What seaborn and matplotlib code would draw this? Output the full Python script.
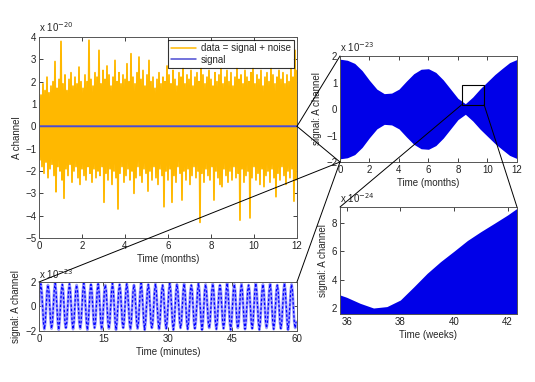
import numpy as np
import matplotlib
matplotlib.use("Agg")
import matplotlib.pyplot as plt
import seaborn as sns
from matplotlib.patches import ConnectionPatch, Rectangle

# --- DATA ---
# main panel: per-column max / min of data = signal + noise, units of 1e-20
noise_hi = [1.7, 1.4, 1.9, 1.6, 2.2, 1.5, 1.8, 2.0, 2.9, 1.7,
            2.1, 3.8, 1.9, 2.3, 1.6, 2.1, 2.4, 1.8, 2.2, 1.9,
            2.65, 2.0, 1.7, 2.3, 2.0, 3.85, 2.1, 1.8, 2.4, 2.2,
            3.4, 1.9, 2.5, 2.1, 2.7, 2.3, 1.8, 2.2, 2.95, 2.0,
            2.4, 1.9, 2.3, 2.1, 2.8, 2.0, 3.25, 2.2, 1.9, 2.4,
            3.1, 2.1, 2.5, 1.8, 2.3, 2.95, 2.0, 2.2, 1.7, 2.1,
            2.4, 1.9, 2.2, 2.0, 2.7, 2.3, 1.9, 2.5, 2.1, 1.8,
            2.4, 2.2, 2.6, 1.9, 2.3, 2.1, 2.5, 1.8, 2.2, 2.4,
            2.0, 2.6, 2.3, 1.9, 2.2, 2.5, 2.1, 1.8, 2.4, 2.0,
            2.3, 2.6, 1.9, 2.2, 2.5, 2.0, 2.4, 1.8, 2.2, 2.6,
            2.1, 2.3, 1.9, 2.5, 2.2, 2.0, 2.4, 2.6, 1.9, 2.3,
            2.1, 2.5, 1.8, 2.2, 2.4, 2.0, 2.6, 2.3, 1.9, 2.2,
            2.5, 2.1, 2.4, 1.9, 2.3, 2.0, 2.6, 2.2, 3.4, 2.5]
noise_lo = [-1.5, -1.8, -2.1, -1.6, -2.3, -1.9, -1.7, -2.2, -2.93, -1.8,
            -2.0, -2.4, -3.22, -1.9, -2.2, -1.7, -2.5, -2.0, -1.8, -2.3,
            -2.6, -1.9, -2.2, -2.4, -1.8, -2.1, -2.5, -1.9, -2.3, -2.0,
            -2.2, -1.8, -3.4, -2.1, -2.4, -1.9, -2.6, -2.0, -2.3, -3.7,
            -2.1, -1.8, -2.5, -2.2, -1.9, -2.4, -2.0, -3.0, -2.3, -1.8,
            -2.2, -2.5, -1.9, -2.1, -2.9, -2.0, -2.4, -1.8, -2.3, -2.6,
            -1.9, -2.2, -3.6, -2.0, -2.4, -1.9, -3.4, -2.2, -2.5, -1.8,
            -2.1, -3.3, -2.0, -2.4, -1.9, -2.6, -2.2, -1.8, -2.3, -2.0,
            -4.3, -2.1, -2.5, -1.9, -2.2, -2.4, -1.8, -3.3, -2.0, -2.3,
            -2.6, -2.7, -1.9, -2.2, -2.5, -2.0, -2.4, -1.8, -2.3, -2.1,
            -4.2, -1.9, -2.5, -2.2, -2.0, -4.1, -2.3, -1.8, -2.4, -2.1,
            -2.6, -1.9, -2.7, -2.2, -2.0, -2.5, -1.9, -2.3, -3.15, -2.1,
            -2.4, -1.8, -2.2, -2.6, -2.0, -2.3, -1.9, -3.35, -2.4, -2.1]

# signal amplitude envelope over the year, units of 1e-23
env_months = [0, 0.5, 1, 1.5, 2, 2.5, 3, 3.5, 4, 4.5, 5, 5.5, 6,
              6.5, 7, 7.5, 8, 8.5, 9, 9.5, 10, 10.5, 11, 11.5, 12]
env_amp = [1.88, 1.84, 1.72, 1.45, 1.08, 0.75, 0.58, 0.6, 0.75, 1.05, 1.33, 1.5, 1.52,
           1.38, 1.1, 0.75, 0.4, 0.2, 0.45, 0.76, 1.03, 1.3, 1.53, 1.75, 1.87]

# zoom on weeks 36-42, upper edge of the signal, units of 1e-24
wk = [35.5, 36, 36.5, 37, 37.5, 38, 38.5, 39, 39.5, 40, 40.5, 41, 41.5, 42, 42.5]
wk_amp = [3.1, 2.77, 2.35, 2.02, 2.12, 2.58, 3.5, 4.45, 5.27, 6.0, 6.75, 7.37, 7.95, 8.54, 9.2]

# first hour of the signal, 8 samples per cycle, units of 1e-23
minute_cycles = [
    [0, 1.3, 1.85, 1.3, 0, -1.3, -1.85, -1.3], [0, 1.25, 1.75, 1.3, 0, -1.25, -1.8, -1.3],
    [0, 1.3, 1.9, 1.25, 0, -1.3, -1.9, -1.25], [0, 1.3, 1.8, 1.3, 0, -1.3, -1.75, -1.3],
    [0, 1.25, 1.85, 1.3, 0, -1.25, -1.85, -1.3], [0, 1.3, 1.75, 1.25, 0, -1.3, -1.8, -1.25],
    [0, 1.3, 1.9, 1.3, 0, -1.3, -1.9, -1.3], [0, 1.25, 1.8, 1.3, 0, -1.25, -1.75, -1.3],
    [0, 1.3, 1.85, 1.25, 0, -1.3, -1.85, -1.25], [0, 1.3, 1.75, 1.3, 0, -1.3, -1.8, -1.3],
    [0, 1.25, 1.9, 1.3, 0, -1.25, -1.9, -1.3], [0, 1.3, 1.8, 1.25, 0, -1.3, -1.75, -1.25],
    [0, 1.3, 1.85, 1.3, 0, -1.3, -1.85, -1.3], [0, 1.25, 1.75, 1.3, 0, -1.25, -1.8, -1.3],
    [0, 1.3, 1.9, 1.25, 0, -1.3, -1.9, -1.25], [0, 1.3, 1.8, 1.3, 0, -1.3, -1.75, -1.3],
    [0, 1.25, 1.85, 1.3, 0, -1.25, -1.85, -1.3], [0, 1.3, 1.75, 1.25, 0, -1.3, -1.8, -1.25],
    [0, 1.3, 1.9, 1.3, 0, -1.3, -1.9, -1.3], [0, 1.25, 1.8, 1.3, 0, -1.25, -1.75, -1.3],
    [0, 1.3, 1.85, 1.25, 0, -1.3, -1.85, -1.25], [0, 1.3, 1.75, 1.3, 0, -1.3, -1.8, -1.3],
    [0, 1.25, 1.9, 1.3, 0, -1.25, -1.9, -1.3], [0, 1.3, 1.8, 1.25, 0, -1.3, -1.75, -1.25],
    [0, 1.3, 1.85, 1.3, 0, -1.3, -1.85, -1.3], [0, 1.25, 1.75, 1.3, 0, -1.25, -1.8, -1.3],
    [0, 1.3, 1.9, 1.25, 0, -1.3, -1.9, -1.25], [0, 1.3, 1.8, 1.3, 0, -1.3, -1.75, -1.3],
    [0, 1.25, 1.85, 1.3, 0, -1.25, -1.85, -1.3], [0, 1.3, 1.75, 1.25, 0, -1.3, -1.8, -1.25],
    [0, 1.3, 1.9, 1.3, 0, -1.3, -1.9, -1.3], [0, 1.25, 1.8, 1.3, 0, -1.25, -1.75, -1.3],
    [0, 1.3, 1.85, 1.25, 0, -1.3, -1.85, -1.25], [0, 1.3, 1.75, 1.3, 0, -1.3, -1.8, -1.3],
    [0, 1.25, 1.9, 1.3, 0, -1.25, -1.9, -1.3], [0, 1.3, 1.8, 1.25, 0, -1.3, -1.75, -1.25],
]

# --- STYLE ---
sns.set_theme(style="ticks")
plt.rcParams["font.family"] = ["Liberation Sans", "DejaVu Sans"]
plt.rcParams.update({
    "font.size": 7,
    "axes.linewidth": 0.7,
    "axes.edgecolor": "#555555",
    "xtick.direction": "in",
    "ytick.direction": "in",
    "xtick.top": True,
    "ytick.right": True,
    "xtick.major.size": 3,
    "ytick.major.size": 3,
    "xtick.major.width": 0.6,
    "ytick.major.width": 0.6,
    "xtick.major.pad": 2,
    "ytick.major.pad": 2,
    "xtick.labelsize": 7,
    "ytick.labelsize": 7,
    "axes.labelsize": 7,
})

ORANGE = "#ffb800"
BLUE = "#0000e8"

fig = plt.figure(figsize=(5.35, 3.82), dpi=100)
ax_main = fig.add_axes([0.0729, 0.3770, 0.4822, 0.5262])
ax_min = fig.add_axes([0.0729, 0.1335, 0.4822, 0.1283])
ax_yr = fig.add_axes([0.6355, 0.5759, 0.3308, 0.2775])
ax_wk = fig.add_axes([0.6355, 0.1780, 0.3308, 0.2801])

# main panel: noisy data drawn as a hi/lo zig-zag per column
n = len(noise_hi)
t_col = np.linspace(0, 12, n)
dt = t_col[1] - t_col[0]
t_zz = np.ravel(np.column_stack([t_col, t_col + dt / 2]))
v_zz = np.ravel(np.column_stack([noise_hi, noise_lo]))
sns.lineplot(x=t_zz, y=v_zz, ax=ax_main, sort=False, estimator=None,
             color=ORANGE, lw=1.3, label="data = signal + noise")
sig_main = np.array(env_amp) * 1e-3  # 1e-23 -> 1e-20 units, essentially flat
sns.lineplot(x=env_months, y=sig_main, ax=ax_main, sort=False, estimator=None,
             color="#4b4bd2", lw=1.4, label="signal")
ax_main.set_xlim(0, 12)
ax_main.set_ylim(-5, 4)
ax_main.set_xticks(range(0, 13, 2))
ax_main.set_yticks(range(-5, 5))
ax_main.set_xlabel("Time (months)", labelpad=2)
ax_main.set_ylabel("A channel", labelpad=2)
ax_main.text(0, 1.015, r"x 10$^{-20}$", transform=ax_main.transAxes, va="bottom", fontsize=7)
leg = ax_main.legend(loc="upper right", fontsize=7, frameon=True, fancybox=False,
                     edgecolor="black", borderaxespad=0.35, handlelength=2.6,
                     borderpad=0.3, labelspacing=0.15, handletextpad=0.5)
leg.get_frame().set_linewidth(0.8)
for h in leg.get_lines():
    h.set_linewidth(1.1)

# one hour of signal
vals = np.ravel(minute_cycles)
t_min = np.linspace(0, 60, len(vals) + 1)[:-1]
sns.lineplot(x=t_min, y=vals, ax=ax_min, sort=False, estimator=None,
             color="#9a9aff", lw=2.0)
sns.lineplot(x=t_min, y=vals, ax=ax_min, sort=False, estimator=None,
             color="#0000ff", lw=0.9, dashes=False, linestyle=(0, (2, 1.5)))
ax_min.set_xlim(0, 60)
ax_min.set_ylim(-2, 2)
ax_min.set_xticks([0, 15, 30, 45, 60])
ax_min.set_yticks([-2, 0, 2])
ax_min.set_xlabel("Time (minutes)", labelpad=2)
ax_min.set_ylabel("signal: A channel", labelpad=3)
ax_min.text(0, 1.03, r"x 10$^{-23}$", transform=ax_min.transAxes, va="bottom", fontsize=7)

# one year of signal: carrier fills the envelope
ax_yr.fill_between(env_months, -np.array(env_amp), env_amp, color=BLUE, lw=0)
ax_yr.set_xlim(0, 12)
ax_yr.set_ylim(-2, 2)
ax_yr.set_xticks(range(0, 13, 2))
ax_yr.set_yticks(range(-2, 3))
ax_yr.set_xlabel("Time (months)", labelpad=2)
ax_yr.set_ylabel("signal: A channel", labelpad=3)
ax_yr.text(0, 1.02, r"x 10$^{-23}$", transform=ax_yr.transAxes, va="bottom", fontsize=7)

# weeks zoom
ax_wk.fill_between(wk, 0, wk_amp, color=BLUE, lw=0)
ax_wk.set_xlim(35.75, 42.35)
ax_wk.set_ylim(1.6, 9.1)
ax_wk.set_xticks([36, 38, 40, 42])
ax_wk.set_yticks([2, 4, 6, 8])
ax_wk.set_xlabel("Time (weeks)", labelpad=2)
ax_wk.set_ylabel("signal: A channel", labelpad=3)
ax_wk.text(0, 1.02, r"x 10$^{-24}$", transform=ax_wk.transAxes, va="bottom", fontsize=7)

for ax in (ax_main, ax_min, ax_yr, ax_wk):
    ax.tick_params(colors="#222222", labelcolor="#222222")

# zoom box in the year panel (weeks -> months)
m0, m1 = 35.75 * 12 / 52, 42.35 * 12 / 52
ax_yr.add_patch(Rectangle((m0, 0.16), m1 - m0, 0.75, fill=False, ec="black", lw=0.8, zorder=5))

# connector lines
def connect(a, pa, b, pb):
    con = ConnectionPatch(xyA=pa, coordsA=a.transData, xyB=pb, coordsB=b.transData,
                          color="black", lw=0.7)
    fig.add_artist(con)

connect(ax_main, (12, 0), ax_yr, (0, 2))
connect(ax_main, (12, 0), ax_yr, (0, -2))
connect(ax_yr, (0, -2), ax_min, (0, 2))
connect(ax_yr, (0, -2), ax_min, (60, 2))
connect(ax_yr, (m0, 0.16), ax_wk, (35.75, 9.1))
connect(ax_yr, (m1, 0.16), ax_wk, (42.35, 9.1))

fig.savefig("out.png", dpi=100)
